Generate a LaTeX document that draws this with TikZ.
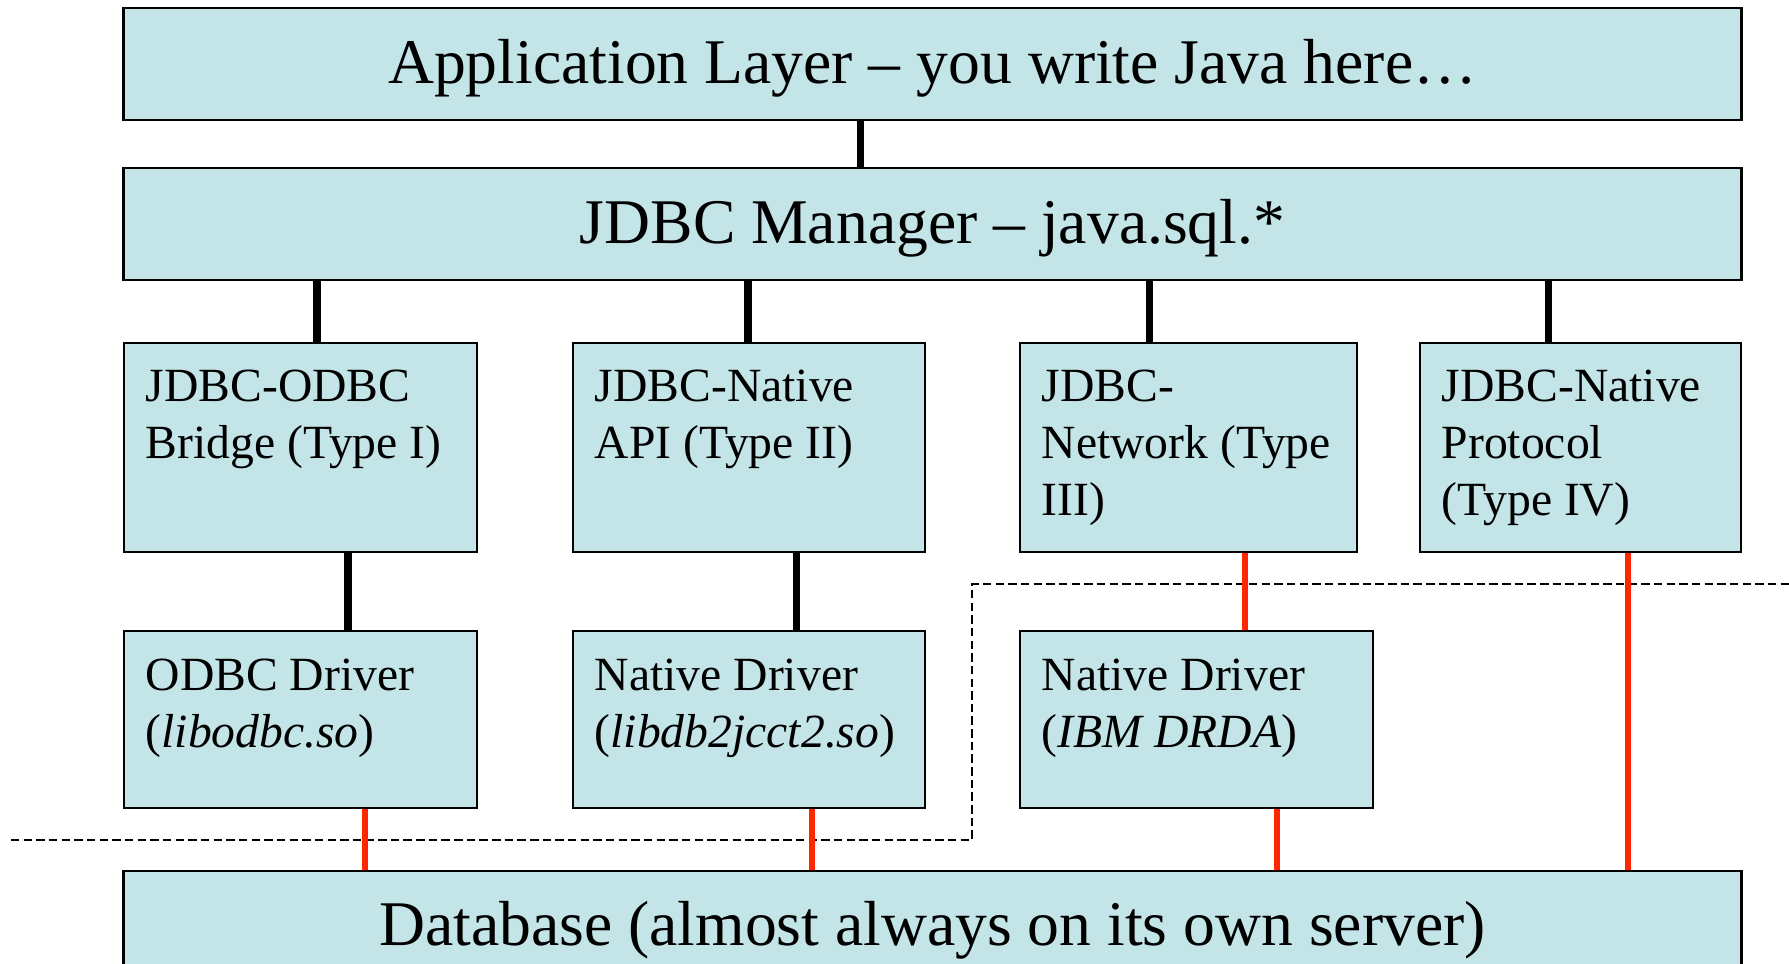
\documentclass[tikz,border=0pt]{standalone}
\usepackage{fontspec}
\setmainfont{Liberation Serif}
\definecolor{boxfill}{RGB}{196,229,232}
\definecolor{linkred}{RGB}{255,38,0}
\begin{document}
\begin{tikzpicture}[x=0.01cm,y=-0.01cm,
  box/.style={draw=black, line width=0.75pt, fill=boxfill, inner sep=0pt},
  widebox/.style={box, minimum width=16.17cm},
  bigtext/.style={font=\fontsize{18.1pt}{21pt}\selectfont, inner sep=0pt, anchor=base},
  % multi-line labels: the base anchor sits on the last line
  smalltext/.style={font=\fontsize{13.55pt}{16.2pt}\selectfont, inner sep=0pt, anchor=base west, align=left},
  stack/.style={line width=2pt, black},
  link/.style={line width=1.7pt, linkred},
  boundary/.style={line width=0.55pt, dash pattern=on 2.4pt off 1.2pt}]
\useasboundingbox (0,0) rectangle (1789,963);
\clip (0,0) rectangle (1789,963);

% layers
\node[widebox, minimum height=1.12cm] (app) at (932.5,64) {};
\node[widebox, minimum height=1.12cm] (mgr) at (932.5,224) {};
\node[widebox, minimum height=1.39cm] (db) at (932.5,940.5) {};

% driver types
\node[box, minimum width=3.53cm, minimum height=2.09cm] (t1) at (300.5,447.5) {};
\node[box, minimum width=3.52cm, minimum height=2.09cm] (t2) at (749,447.5) {};
\node[box, minimum width=3.37cm, minimum height=2.09cm] (t3) at (1188.5,447.5) {};
\node[box, minimum width=3.21cm, minimum height=2.09cm] (t4) at (1580.5,447.5) {};

% native drivers
\node[box, minimum width=3.53cm, minimum height=1.77cm] (d1) at (300.5,719.5) {};
\node[box, minimum width=3.52cm, minimum height=1.77cm] (d2) at (749,719.5) {};
\node[box, minimum width=3.53cm, minimum height=1.77cm] (d3) at (1196.5,719.5) {};

% labels
\node[bigtext] (appt) at (932.5,83) {Application Layer – you write Java here…};
\node[bigtext] (mgrt) at (932.5,243) {JDBC Manager – java.sql.*};
\node[bigtext] (dbt) at (932.5,945) {Database (almost always on its own server)};
\node[smalltext] (t1t) at (145,458) {JDBC-ODBC\\Bridge (Type I)};
\node[smalltext] (t2t) at (594,458) {JDBC-Native\\API (Type II)};
\node[smalltext] (t3t) at (1041,515) {JDBC-\\Network (Type\\III)};
\node[smalltext] (t4t) at (1441,515) {JDBC-Native\\Protocol\\(Type IV)};
\node[smalltext] (d1t) at (145,747) {ODBC Driver\\(\textit{libodbc.so})};
\node[smalltext] (d2t) at (594,747) {Native Driver\\(\textit{libdb2jcct2.so})};
\node[smalltext] (d3t) at (1041,747) {Native Driver\\(\textit{IBM DRDA})};

% client / server boundary
\draw[boundary] (11,840) -| (972,584) -- (1789,584);

% connector columns
\coordinate (xa) at (860,0);
\coordinate (x1) at (317,0);
\coordinate (x2) at (748,0);
\coordinate (x3) at (1149,0);
\coordinate (x4) at (1548,0);
\coordinate (y1) at (348,0);
\coordinate (y2) at (796,0);
\coordinate (y3) at (1245,0);
\coordinate (y4) at (1628,0);
\coordinate (z1) at (365,0);
\coordinate (z2) at (812,0);
\coordinate (z3) at (1277,0);

\draw[stack] (xa |- app.south) -- (xa |- mgr.north);
\draw[stack] (x1 |- mgr.south) -- (x1 |- t1.north);
\draw[stack] (x2 |- mgr.south) -- (x2 |- t2.north);
\draw[stack] (x3 |- mgr.south) -- (x3 |- t3.north);
\draw[stack] (x4 |- mgr.south) -- (x4 |- t4.north);
\draw[stack] (y1 |- t1.south) -- (y1 |- d1.north);
\draw[stack] (y2 |- t2.south) -- (y2 |- d2.north);
\draw[link] (y3 |- t3.south) -- (y3 |- d3.north);
\draw[link] (y4 |- t4.south) -- (y4 |- db.north);
\draw[link] (z1 |- d1.south) -- (z1 |- db.north);
\draw[link] (z2 |- d2.south) -- (z2 |- db.north);
\draw[link] (z3 |- d3.south) -- (z3 |- db.north);
\end{tikzpicture}
\end{document}
